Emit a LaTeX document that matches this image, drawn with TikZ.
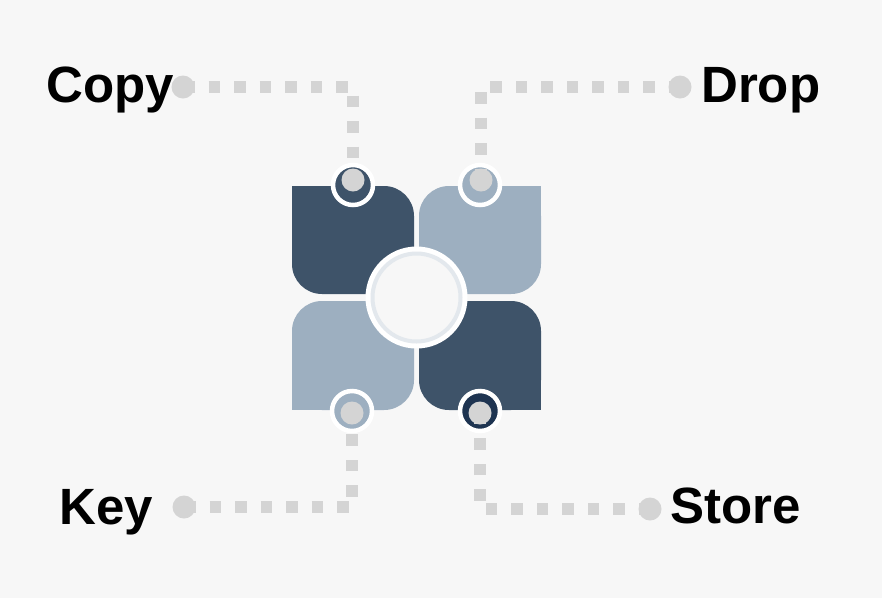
\documentclass[tikz,border=0pt]{standalone}
\usepackage{fontspec}
\setmainfont{Liberation Sans}
\pgfdeclarelayer{base}
\pgfdeclarelayer{wires}
\pgfsetlayers{base,wires,main}
\definecolor{slate}{HTML}{3E5369}
\definecolor{mist}{HTML}{9DAFC0}
\definecolor{navy}{HTML}{1E3451}
\definecolor{pebble}{HTML}{D4D4D4}
\definecolor{paper}{HTML}{F7F7F7}
\definecolor{halo}{HTML}{E3E8ED}
\tikzset{
  tag/.style={font=\bfseries\fontsize{51}{60}\selectfont, anchor=base west, inner sep=0pt},
  enddot/.style={circle, fill=pebble, minimum size=23pt, inner sep=0pt},
  pinring/.style={circle, fill=#1, draw=white, line width=4.5pt, minimum size=40pt, inner sep=0pt},
  wire/.style={draw=pebble, line width=12pt, dash pattern=on 11.5pt off 14pt},
}

\begin{document}
\begin{tikzpicture}[x=1pt, y=-1pt]
  \useasboundingbox (0,0) rectangle (882,598);
  \begin{pgfonlayer}{base}
    \fill[paper] (0,0) rectangle (882,598);
    % petals
    \fill[slate, rounded corners=30pt] (292,186) rectangle (414,294);
    \fill[slate] (292,186) rectangle (330,224);
    \fill[mist, rounded corners=30pt] (419,186) rectangle (541,294);
    \fill[mist] (503,186) rectangle (541,224);
    \fill[mist, rounded corners=30pt] (292,301) rectangle (414,410);
    \fill[mist] (292,372) rectangle (330,410);
    \fill[slate, rounded corners=30pt] (419,301) rectangle (541,410);
    \fill[slate] (503,372) rectangle (541,410);
    % hub
    \node[circle, fill=white, minimum size=102pt, inner sep=0pt] (hub) at (416.5,297.5) {};
    \node[circle, fill=paper, draw=halo, line width=4pt, minimum size=88pt, inner sep=0pt] (hubin) at (hub) {};
    % pins
    \node[pinring=slate] (tlpin) at (353,185) {};
    \node[pinring=mist] (trpin) at (480,185) {};
    \node[pinring=mist] (blpin) at (352,411) {};
    \node[pinring=navy] (brpin) at (480,411) {};
  \end{pgfonlayer}
  % dots
  \node[enddot] (tldot) at (353,180) {};
  \node[enddot] (trdot) at (481,180) {};
  \node[enddot] (bldot) at (352,413) {};
  \node[enddot] (brdot) at (480,413) {};
  \node[enddot] (copydot) at (183,87) {};
  \node[enddot] (dropdot) at (680,87) {};
  \node[enddot] (keydot) at (184,507) {};
  \node[enddot] (storedot) at (650,509) {};
  % labels
  \node[tag] (copy) at (46,102) {Copy};
  \node[tag] (drop) at (701,102) {Drop};
  \node[tag] (key) at (59,524) {Key};
  \node[tag] (store) at (670,523) {Store};
  \begin{pgfonlayer}{wires}
    \draw[wire] (copydot.center) -| (tldot.center);
    \draw[wire] (dropdot.center) -| (trdot.center);
    \draw[wire] (keydot.center) -| (bldot.center);
    \draw[wire] (storedot.center) -| (brdot.center);
  \end{pgfonlayer}
\end{tikzpicture}
\end{document}
